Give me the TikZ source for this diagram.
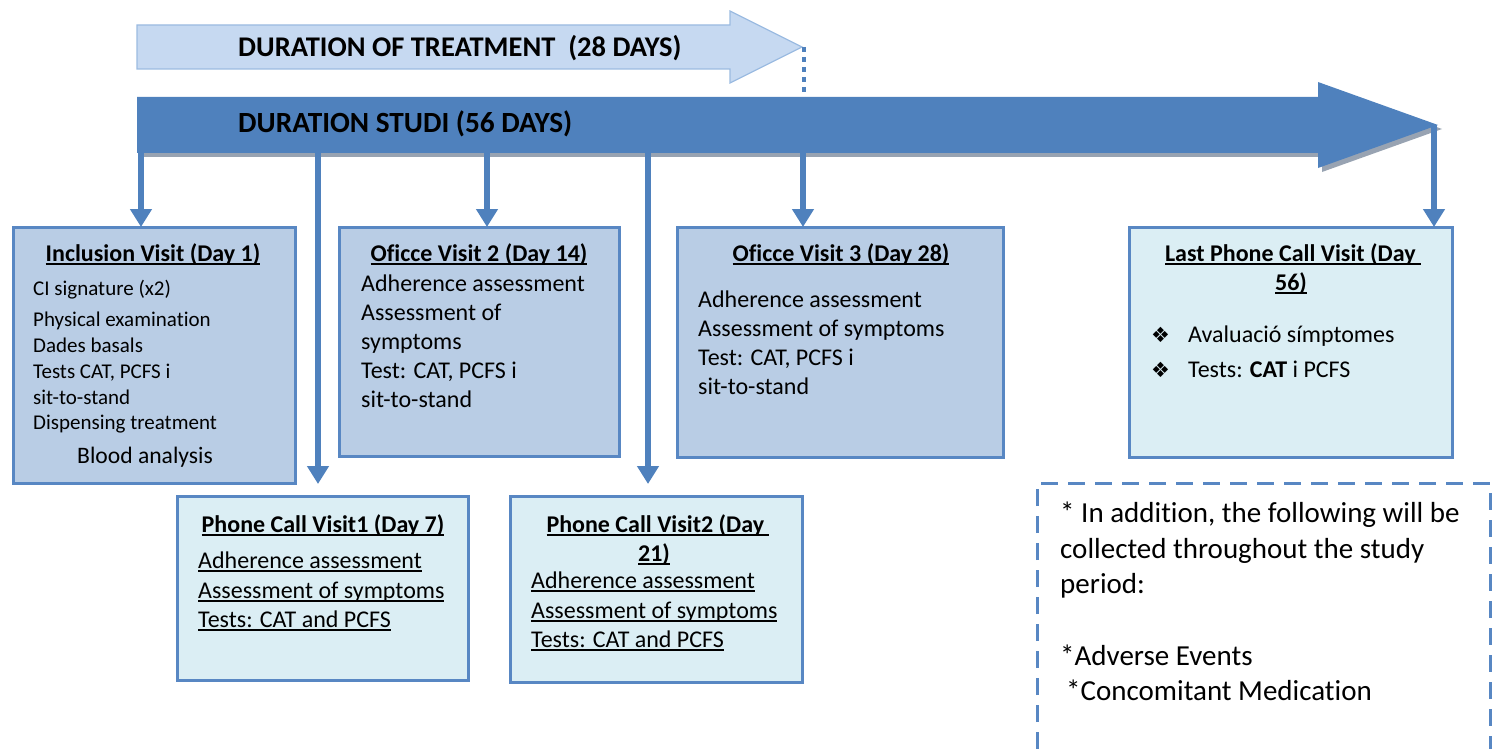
\documentclass[tikz,border=0pt]{standalone}
\usepackage{fontspec}
\setmainfont{Carlito}[Ligatures=NoCommon]
\newfontfamily\dejavu{DejaVu Sans}
\usetikzlibrary{arrows.meta,calc}
\definecolor{barblue}{RGB}{79,129,189}
\definecolor{lightarrow}{RGB}{198,217,241}
\definecolor{lightarrowedge}{RGB}{155,187,225}
\definecolor{darkfill}{RGB}{185,205,229}
\definecolor{lightfill}{RGB}{219,238,244}
\definecolor{boxedge}{RGB}{88,135,195}
\definecolor{shadowgray}{RGB}{152,163,178}
\newcommand{\myul}[1]{\setbox0\hbox{#1}\rlap{\rule[-0.15em]{\wd0}{0.08em}}\box0}
\begin{document}
\begin{tikzpicture}[x=1pt,y=-1pt,
 box/.style={draw=boxedge, line width=3pt, anchor=north west, inner sep=0pt, outer sep=0pt},
 darkbox/.style={box, fill=darkfill},
 lightbox/.style={box, fill=lightfill},
 conn/.style={draw=barblue, line width=6pt, -{Triangle[width=21pt,length=18pt]}},
 body/.style={inner sep=0pt, anchor=base west, font=\fontsize{24}{29}\selectfont},
 small/.style={body, font=\fontsize{21}{26}\selectfont},
 ttl/.style={inner sep=0pt, anchor=base, font=\bfseries\fontsize{24}{29}\selectfont},
 bartxt/.style={inner sep=0pt, anchor=base west, font=\bfseries\fontsize{28.5}{34}\selectfont},
 bul/.style={inner sep=0pt, anchor=base west, font=\dejavu\fontsize{21}{25}\selectfont},
 note/.style={inner sep=0pt, anchor=base west, font=\fontsize{29}{35}\selectfont},
]
\useasboundingbox (0,0) rectangle (1499,749);

% treatment arrow
\draw[fill=lightarrow, draw=lightarrowedge, line width=1.2pt]
  (137,25) -- (730,25) -- (730,11) -- (802,47) -- (730,83) -- (730,69) -- (137,69) -- cycle;
\coordinate (ttip) at (804,47);
\node[bartxt] (ttxt) at (238,57) {DURATION OF TREATMENT\ \ (28 DAYS)};

% study bar
\fill[shadowgray] (141,101) -- (1322,101) -- (1322,86) -- (1442,129) -- (1322,172) -- (1322,157) -- (141,157) -- cycle;
\fill[barblue] (137,97) -- (1318,97) -- (1318,82) -- (1438,125) -- (1318,168) -- (1318,153) -- (137,153) -- cycle;
\coordinate (sbar) at (804,97);
\draw[barblue, line width=4.5pt, dash pattern=on 5pt off 5pt] (ttip) -- (sbar);
\node[bartxt, font=\bfseries\fontsize{29.3}{35}\selectfont] (stxt) at (238,133) {DURATION STUDI (56 DAYS)};

% boxes
\node[darkbox, minimum width=282pt, minimum height=256pt] (inc) at (13,227) {};
\node[darkbox, minimum width=280pt, minimum height=229pt] (of2) at (339,227) {};
\node[darkbox, minimum width=326pt, minimum height=230pt] (of3) at (677,227) {};
\node[lightbox, minimum width=323pt, minimum height=230pt] (last) at (1129,227) {};
\node[lightbox, minimum width=291pt, minimum height=184pt] (p1) at (177,496) {};
\node[lightbox, minimum width=292pt, minimum height=186pt] (p2) at (510,496) {};
\draw[boxedge, line width=3pt, dash pattern=on 17pt off 10pt] (1037,749) -- (1037,483) -- (1490,483) -- (1490,749);

% connectors
\coordinate (a1) at (141,150);
\coordinate (a2) at (318,150);
\coordinate (a3) at (487,150);
\coordinate (a4) at (648,150);
\coordinate (a5) at (803,150);
\coordinate (a6) at (1434,125);
\draw[conn] (a1) -- (a1 |- inc.north);
\draw[conn] (a2) -- ($(a2 |- p1.north)+(0,-12)$);
\draw[conn] (a3) -- (a3 |- of2.north);
\draw[conn] (a4) -- ($(a4 |- p2.north)+(0,-12)$);
\draw[conn] (a5) -- (a5 |- of3.north);
\draw[conn] (a6) -- (a6 |- last.north);

% inclusion text
\node[ttl] (inc-t) at (153,261) {\myul{Inclusion Visit (Day 1)}};
\node[small] (inc-1) at (33,295) {CI signature (x2)};
\node[small] (inc-2) at (33,326) {Physical examination};
\node[small] (inc-3) at (33,352) {Dades basals};
\node[small] (inc-4) at (33,378) {Tests CAT, PCFS i};
\node[small] (inc-5) at (33,404) {sit-to-stand};
\node[small] (inc-6) at (33,429) {Dispensing treatment};
\node[inner sep=0pt, anchor=base, font=\fontsize{23.6}{28}\selectfont] (inc-7) at (145,463) {Blood analysis};

% office visit 2
\node[ttl] (of2-t) at (479,261) {\myul{Oficce Visit 2 (Day 14)}};
\node[body] (of2-1) at (361,291) {Adherence assessment};
\node[body] (of2-2) at (361,320) {Assessment of};
\node[body] (of2-3) at (361,349) {symptoms};
\node[body] (of2-4) at (361,378) {Test: CAT, PCFS i};
\node[body] (of2-5) at (361,407) {sit-to-stand};

% office visit 3
\node[ttl] (of3-t) at (841,261) {\myul{Oficce Visit 3 (Day 28)}};
\node[body] (of3-1) at (698,307) {Adherence assessment};
\node[body] (of3-2) at (698,336) {Assessment of symptoms};
\node[body] (of3-3) at (698,365) {Test: CAT, PCFS i};
\node[body] (of3-4) at (698,394) {sit-to-stand};

% last phone call
\node[ttl] (last-t1) at (1293,261) {\myul{Last Phone Call Visit (Day\ }};
\node[ttl] (last-t2) at (1291,290) {\myul{56)}};
\node[bul] (last-b1) at (1151,342) {❖};
\node[bul] (last-b2) at (1151,377) {❖};
\node[body] (last-1) at (1188,342) {Avaluació símptomes};
\node[body] (last-2) at (1188,377) {Tests: \textbf{CAT} i PCFS};

% phone call 1
\node[ttl] (p1-t) at (323,532) {\myul{Phone Call Visit1 (Day 7)}};
\node[body] (p1-1) at (198,568) {\myul{Adherence assessment}};
\node[body] (p1-2) at (198,598) {\myul{Assessment of symptoms}};
\node[body] (p1-3) at (198,627) {\myul{Tests: CAT and PCFS}};

% phone call 2
\node[ttl] (p2-t1) at (658,532) {\myul{Phone Call Visit2 (Day\ }};
\node[ttl] (p2-t2) at (654,561) {\myul{21)}};
\node[body] (p2-1) at (531,588) {\myul{Adherence assessment}};
\node[body] (p2-2) at (531,618) {\myul{Assessment of symptoms}};
\node[body] (p2-3) at (531,647) {\myul{Tests: CAT and PCFS}};

% note
\node[note] (n1) at (1060,522) {* In addition, the following will be};
\node[note] (n2) at (1060,558) {collected throughout the study};
\node[note] (n3) at (1060,593) {period:};
\node[note] (n4) at (1060,665) {*Adverse Events};
\node[note] (n5) at (1066,700) {*Concomitant Medication};
\end{tikzpicture}
\end{document}
